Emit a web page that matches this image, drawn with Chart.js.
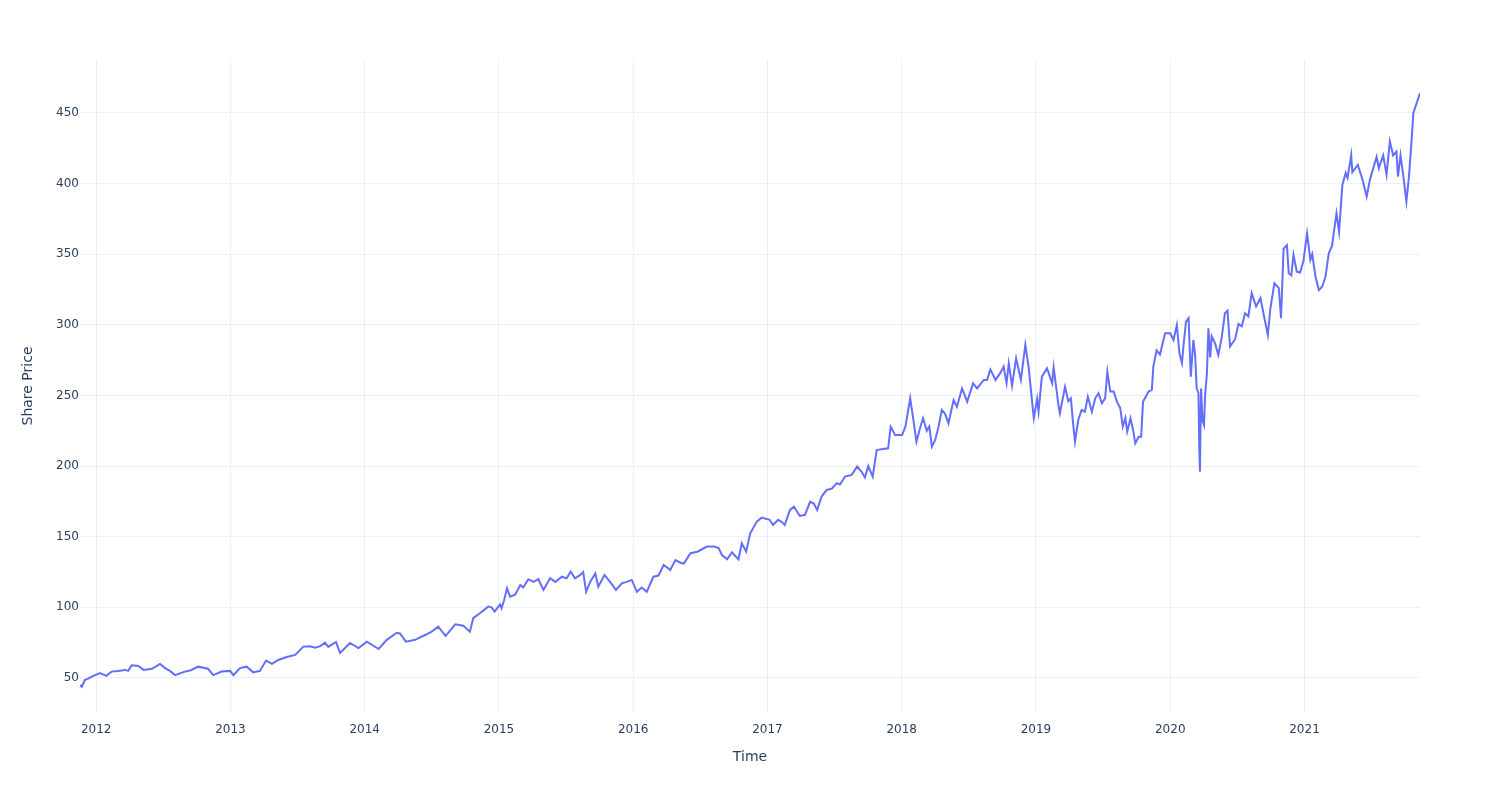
<!DOCTYPE html>
<html>
<head>
<meta charset="utf-8">
<title>Share Price</title>
<script src="https://cdn.jsdelivr.net/npm/chart.js@4.4.1/dist/chart.umd.min.js"></script>
<style>
  html, body { margin: 0; padding: 0; background: #ffffff; }
  #wrap { width: 1500px; height: 800px; }
</style>
</head>
<body>
<div id="wrap"><canvas id="myCanvas" width="1500" height="800"></canvas></div>
<script>
// closing prices (roughly twice a month, more points where it jumps)
var dates = [
  '2011-11-18','2011-11-23','2011-12-01','2011-12-10','2011-12-20',
  '2012-01-11','2012-01-29','2012-02-12','2012-03-01','2012-03-20','2012-03-28','2012-04-07','2012-04-25',
  '2012-05-09','2012-06-01','2012-06-23','2012-07-07','2012-07-20','2012-08-03','2012-08-30','2012-09-15',
  '2012-10-05','2012-11-01','2012-11-15','2012-12-08','2012-12-31',
  '2013-01-09','2013-01-27','2013-02-14','2013-03-04','2013-03-22','2013-04-08','2013-04-24','2013-05-11',
  '2013-06-03','2013-06-26','2013-07-18','2013-08-05','2013-08-19','2013-09-02','2013-09-15','2013-09-24',
  '2013-10-15','2013-10-26','2013-11-22','2013-12-15',
  '2014-01-07','2014-02-08','2014-03-02','2014-03-29','2014-04-07','2014-04-23','2014-05-18','2014-06-14',
  '2014-07-02','2014-07-20','2014-08-09','2014-09-04','2014-09-26','2014-10-14','2014-10-23','2014-11-10',
  '2014-12-03','2014-12-12','2014-12-20',
  '2015-01-04','2015-01-08','2015-01-15','2015-01-23','2015-01-31','2015-02-14','2015-02-28','2015-03-08',
  '2015-03-22','2015-04-05','2015-04-18','2015-05-02','2015-05-20','2015-06-03','2015-06-21','2015-07-04',
  '2015-07-15','2015-07-27','2015-08-10','2015-08-18','2015-08-26','2015-09-06','2015-09-20','2015-09-28',
  '2015-10-15','2015-10-30','2015-11-15','2015-12-01','2015-12-14','2015-12-28',
  '2016-01-11','2016-01-24','2016-02-07','2016-02-25','2016-03-10','2016-03-24','2016-04-11','2016-04-25',
  '2016-05-09','2016-05-18','2016-06-05','2016-06-24','2016-07-20','2016-08-08','2016-08-21','2016-08-30',
  '2016-09-13','2016-09-26','2016-10-14','2016-10-23','2016-11-04','2016-11-15','2016-12-03','2016-12-16',
  '2017-01-07','2017-01-16','2017-01-30','2017-02-08','2017-02-17','2017-03-03','2017-03-14','2017-03-30',
  '2017-04-13','2017-04-27','2017-05-07','2017-05-16','2017-05-28','2017-06-11','2017-06-25','2017-07-08',
  '2017-07-17','2017-07-31','2017-08-18','2017-09-02','2017-09-14','2017-09-23','2017-10-02','2017-10-14',
  '2017-10-25','2017-11-07','2017-11-25','2017-12-02','2017-12-14',
  '2018-01-02','2018-01-11','2018-01-24','2018-02-03','2018-02-10','2018-02-21','2018-02-28','2018-03-10',
  '2018-03-17','2018-03-24','2018-04-02','2018-04-11','2018-04-20','2018-04-29','2018-05-08','2018-05-22',
  '2018-05-31','2018-06-14','2018-06-28','2018-07-14','2018-07-25','2018-08-12','2018-08-21','2018-08-30',
  '2018-09-13','2018-09-26','2018-10-05','2018-10-13','2018-10-19','2018-10-28','2018-11-08','2018-11-21',
  '2018-12-03','2018-12-12','2018-12-26',
  '2019-01-04','2019-01-08','2019-01-17','2019-01-31','2019-02-14','2019-02-18','2019-03-03','2019-03-07',
  '2019-03-21','2019-03-30','2019-04-06','2019-04-11','2019-04-17','2019-04-26','2019-05-05','2019-05-14',
  '2019-05-22','2019-06-02','2019-06-11','2019-06-20','2019-06-29','2019-07-08','2019-07-14','2019-07-22',
  '2019-07-31','2019-08-09','2019-08-18','2019-08-25','2019-09-01','2019-09-06','2019-09-15','2019-09-22',
  '2019-09-28','2019-10-07','2019-10-14','2019-10-19','2019-11-03','2019-11-12','2019-11-16','2019-11-25',
  '2019-12-04','2019-12-18',
  '2020-01-01','2020-01-10','2020-01-19','2020-01-26','2020-02-02','2020-02-06','2020-02-13','2020-02-20',
  '2020-02-26','2020-03-04','2020-03-09','2020-03-13','2020-03-18','2020-03-20','2020-03-22','2020-03-25',
  '2020-03-29','2020-04-02','2020-04-05','2020-04-10','2020-04-14','2020-04-19','2020-04-23','2020-05-02',
  '2020-05-11','2020-05-20','2020-05-29','2020-06-05','2020-06-12','2020-06-26','2020-07-05','2020-07-14',
  '2020-07-23','2020-08-01','2020-08-10','2020-08-22','2020-09-03','2020-09-12','2020-09-23','2020-09-30',
  '2020-10-11','2020-10-23','2020-10-29','2020-11-05','2020-11-14','2020-11-19','2020-11-26','2020-12-02',
  '2020-12-11','2020-12-20','2020-12-29',
  '2021-01-08','2021-01-17','2021-01-22','2021-01-31','2021-02-09','2021-02-18','2021-02-27','2021-03-08',
  '2021-03-17','2021-03-22','2021-03-29','2021-04-05','2021-04-14','2021-04-23','2021-04-28','2021-05-08',
  '2021-05-11','2021-05-26','2021-06-08','2021-06-19','2021-06-28','2021-07-07','2021-07-16','2021-07-22',
  '2021-08-03','2021-08-12','2021-08-21','2021-08-30','2021-09-08','2021-09-12','2021-09-19','2021-09-28',
  '2021-10-05','2021-10-12','2021-10-18','2021-10-24','2021-11-02','2021-11-11'
];
var prices = [
  45, 43.8, 48.5, 49.5, 51,
  53.5, 51.5, 54.5, 55, 55.7, 55, 59, 58.5,
  55.7, 56.5, 59.9, 57, 55, 52, 54.5, 55.5,
  58, 56.5, 52, 54.5, 55,
  52, 57, 58, 54, 55, 62.3, 60, 62.7,
  64.8, 66.3, 72.2, 72.5, 71.5, 72.5, 75, 72,
  75.5, 67.7, 74.8, 71.2,
  75.7, 70.5, 77, 82, 81.5, 75.7, 77, 80.4,
  82.8, 86.3, 79.7, 88, 87, 82.8, 92.3, 95.8,
  100.5, 100, 97,
  102, 99.3, 105, 113.5, 107.6, 109, 115.8, 114,
  119.9, 118, 119.9, 112.3, 120.6, 118, 121.7, 120.5,
  125.3, 120.5, 123, 125, 111, 118, 124, 114.6,
  122.9, 118, 112.3, 117, 118, 119.4,
  111, 114, 111, 121.7, 122.5, 130, 126.5, 133.5,
  131.6, 131, 138.3, 139.4, 143, 143, 142, 137,
  134, 139, 134, 145.4, 139.4, 152.4, 160.7, 163.5,
  162, 158.3, 162, 160.5, 158.3, 169, 171.3, 164.7,
  165.5, 174.8, 173.5, 169, 178.4, 183.1, 184, 187.9,
  187, 192.6, 193.8, 199.7, 196, 192, 200, 192.5,
  211.4, 212, 212.6, 227.9, 222,
  222, 227.9, 248, 230.3, 217.3, 228, 233.9, 225,
  228, 213.8, 218.5, 227.9, 239.7, 237, 230.3, 246.8,
  242, 255, 245.6, 258.6, 255, 261, 261, 268.5,
  261, 266, 270.4, 258.6, 272.8, 257, 276.3, 261,
  285.8, 270, 233.9,
  247.5, 238.5, 263.3, 269.2, 258.6, 270, 243.2, 237.4,
  256.2, 246, 248, 232.6, 217.3, 232.6, 239.7, 238.5,
  249.1, 238.5, 248, 251.6, 244.5, 248, 266.8, 252.8,
  252.8, 245.6, 241, 227.9, 234, 224.4, 233.9, 225.6,
  216.1, 220.8, 220.8, 245.6, 252.8, 254, 270.4, 282,
  279, 294,
  294, 289.3, 299.9, 280, 272.8, 285, 302.3, 304.7,
  263.3, 289.3, 278, 255, 251.6, 213.8, 196, 255,
  232, 229, 250, 265.7, 297.6, 277, 292, 287,
  278.7, 290.5, 308.2, 310, 284.6, 290, 300.7, 299,
  308.2, 306, 322.4, 313, 319, 307, 292.8, 311.7,
  329.4, 326, 304.7, 354, 356.5, 336.5, 335, 349.5,
  337.6, 337, 345,
  364.8, 346, 350, 334, 324.7, 327, 334, 350.6,
  356, 366, 379, 366, 399, 407.5, 404, 420.3,
  408, 413.2, 402.6, 390.8, 403, 410.8, 419, 411,
  420, 406.2, 429.8, 420, 422.7, 405, 420, 402.6,
  387.3, 405, 426.3, 450, 457.1, 464
];
var yearTicks = [2012, 2013, 2014, 2015, 2016, 2017, 2018, 2019, 2020, 2021];
var priceTicks = [50, 100, 150, 200, 250, 300, 350, 400, 450];

// date string -> fractional year, so a plain linear axis can be used
function toYear(s){
    var p = s.split('-');
    var y = parseInt(p[0], 10);
    var start = Date.UTC(y, 0, 1);
    var end = Date.UTC(y + 1, 0, 1);
    var t = Date.UTC(y, parseInt(p[1], 10) - 1, parseInt(p[2], 10));
    return y + (t - start) / (end - start);
}

var points = [];
for (var i = 0; i < dates.length; i++) {
    points.push({x: toYear(dates[i]), y: prices[i]});
}

var textColor = '#2a3f5f';
var gridColor = '#ebf0f8';
Chart.defaults.font.family = '"DejaVu Sans", Verdana, sans-serif';
Chart.defaults.color = textColor;

var ctx = document.getElementById('myCanvas').getContext('2d');
var myChart = new Chart(ctx, {
    type: 'line',
    data: {
        datasets: [{
            data: points,
            borderColor: '#636efa',
            borderWidth: 2,
            pointRadius: 0,
            tension: 0,
            fill: false
        }]
    },
    options: {
        responsive: false,
        animation: false,
        devicePixelRatio: 1,
        layout: { padding: { top: 60, right: 80, left: 0, bottom: 0 } },
        plugins: {
            legend: { display: false },
            tooltip: { enabled: false }
        },
        scales: {
            x: {
                type: 'linear',
                min: points[0].x,
                max: points[points.length - 1].x,
                border: { display: false },
                grid: { color: gridColor, lineWidth: 1, drawTicks: false },
                ticks: {
                    padding: 11,
                    maxRotation: 0,
                    font: { size: 12 },
                    callback: function(v){ return String(v); }
                },
                title: { display: true, text: 'Time', font: { size: 14 }, padding: { top: 0, bottom: 34 } },
                afterBuildTicks: function(scale){
                    scale.ticks = yearTicks.map(function(v){ return {value: v}; });
                },
                afterFit: function(scale){ scale.height = 88; }
            },
            y: {
                min: 25.9,
                max: 487.5,
                border: { display: false },
                grid: { color: gridColor, lineWidth: 1, drawTicks: false },
                ticks: {
                    padding: 1,
                    font: { size: 12 },
                    callback: function(v){ return String(v); }
                },
                title: { display: true, text: 'Share Price', font: { size: 14 }, padding: { top: 20, bottom: 0 } },
                afterBuildTicks: function(scale){
                    scale.ticks = priceTicks.map(function(v){ return {value: v}; });
                },
                afterFit: function(scale){ scale.width = 80; }
            }
        }
    }
});
</script>
</body>
</html>
